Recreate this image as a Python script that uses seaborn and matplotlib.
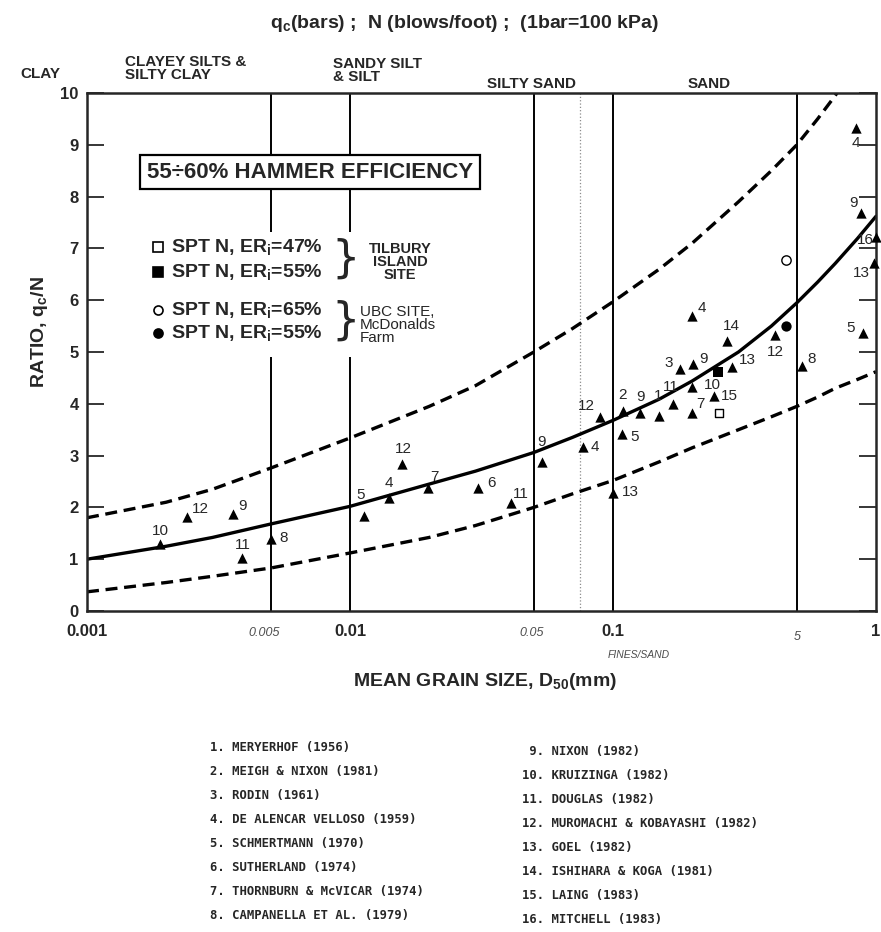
import numpy as np
import pandas as pd
import matplotlib
matplotlib.use("Agg")
import matplotlib.pyplot as plt
import seaborn as sns
from matplotlib.lines import Line2D
from matplotlib.patches import Rectangle
from matplotlib.ticker import NullLocator

# --- curves (D50 in mm, ratio qc/N) ---
curve_d50 = [0.001, 0.002, 0.003, 0.005, 0.01, 0.02, 0.03, 0.05, 0.07, 0.1,
             0.15, 0.2, 0.3, 0.4, 0.5, 0.6, 0.7, 0.85, 1.0]
mean_ratio = [1.0, 1.25, 1.42, 1.68, 2.02, 2.45, 2.70, 3.06, 3.35, 3.68,
              4.09, 4.44, 5.0, 5.5, 5.95, 6.35, 6.71, 7.19, 7.62]
lower_ratio = [0.37, 0.55, 0.67, 0.83, 1.12, 1.42, 1.65, 2.0, 2.26, 2.52,
               2.88, 3.15, 3.5, 3.75, 3.95, 4.13, 4.3, 4.47, 4.62]
upper_d50 = [0.001, 0.002, 0.003, 0.005, 0.01, 0.02, 0.03, 0.05, 0.07, 0.1,
             0.15, 0.2, 0.3, 0.4, 0.5, 0.6, 0.7, 0.8]
upper_ratio = [1.8, 2.1, 2.35, 2.76, 3.34, 3.95, 4.35, 5.0, 5.45, 5.97,
               6.6, 7.1, 7.9, 8.5, 9.0, 9.5, 9.95, 10.4]

# --- published data (triangles), labelled by reference number ---
ref_no = [1, 2, 3, 4, 4, 4, 4, 5, 5, 5, 6, 7, 7, 8, 8, 9, 9, 9, 9, 9,
          10, 10, 11, 11, 11, 12, 12, 12, 12, 13, 13, 13, 14, 15, 16]
ref_d50 = [0.149, 0.109, 0.179, 0.0141, 0.0768, 0.200, 0.84, 0.0113, 0.108, 0.89,
           0.0308, 0.0198, 0.199, 0.005, 0.521, 0.0036, 0.0537, 0.127, 0.202, 0.88,
           0.0019, 0.200, 0.0039, 0.0408, 0.169, 0.0024, 0.0157, 0.0895, 0.413,
           0.100, 0.284, 0.98, 0.272, 0.242, 1.0]
ref_ratio = [3.76, 3.86, 4.67, 2.18, 3.17, 5.70, 9.32, 1.83, 3.42, 5.37,
             2.37, 2.37, 3.82, 1.39, 4.73, 1.87, 2.88, 3.82, 4.77, 7.68,
             1.29, 4.33, 1.02, 2.08, 4.00, 1.81, 2.84, 3.74, 5.33,
             2.28, 4.71, 6.72, 5.21, 4.15, 7.22]

# site data
tilbury_open = ([0.253], [3.82])    # ERi = 47%
tilbury_filled = ([0.25], [4.61])   # ERi = 55%
ubc_open = ([0.456], [6.78])        # ERi = 65%
ubc_filled = ([0.456], [5.50])      # ERi = 55%

soil_bounds = [0.005, 0.01, 0.05, 0.1, 0.5]
fines_sand = 0.075

references = ["MERYERHOF (1956)", "MEIGH & NIXON (1981)", "RODIN (1961)",
              "DE ALENCAR VELLOSO (1959)", "SCHMERTMANN (1970)", "SUTHERLAND (1974)",
              "THORNBURN & McVICAR (1974)", "CAMPANELLA ET AL. (1979)",
              "NIXON (1982)", "KRUIZINGA (1982)", "DOUGLAS (1982)",
              "MUROMACHI & KOBAYASHI (1982)", "GOEL (1982)", "ISHIHARA & KOGA (1981)",
              "LAING (1983)", "MITCHELL (1983)"]

# label offsets (pixels) for the reference numbers
label_offsets = [(0, 20), (0, 16), (-11, 6), (0, 15), (12, 0), (10, 8), (0, -15),
                 (-3, 21), (13, -3), (-12, 5), (13, 5), (6, 11), (9, 9), (13, 1), (10, 7),
                 (9, 8), (0, 20), (0, 16), (10, 5), (-8, 10), (0, 13), (20, 2),
                 (0, 13), (10, 9), (-2, 17), (13, 8), (2, 15), (-14, 11), (0, -17),
                 (17, 1), (15, 7), (-12, -10), (4, 15), (15, 0), (-11, -3)]

W, H = 881, 932


def fx(px):
    return px / W


def fy(py):
    return 1 - py / H


sns.set_style("ticks")
plt.rcParams['font.family'] = ['Liberation Sans', 'DejaVu Sans']
plt.rcParams['mathtext.fontset'] = 'custom'
plt.rcParams['mathtext.rm'] = 'Liberation Sans:bold'
plt.rcParams['mathtext.it'] = 'Liberation Sans:bold'
plt.rcParams['mathtext.bf'] = 'Liberation Sans:bold'

fig = plt.figure(figsize=(W / 100, H / 100), dpi=100)
ax = fig.add_axes([fx(87), fy(611), (876 - 87) / W, (611 - 93) / H])

ax.set_xscale('log')
ax.set_xlim(0.001, 1)
ax.set_ylim(0, 10)

for b in soil_bounds:
    ax.axvline(b, color='black', lw=1.4, zorder=1)
ax.axvline(fines_sand, color='0.55', lw=0.9, ls=':', zorder=1)

sns.lineplot(x=curve_d50, y=mean_ratio, color='black', lw=2.4, ax=ax, estimator=None)
sns.lineplot(x=upper_d50, y=upper_ratio, color='black', lw=2.4, ax=ax, estimator=None)
sns.lineplot(x=curve_d50, y=lower_ratio, color='black', lw=2.4, ax=ax, estimator=None)
ax.lines[-1].set_dashes((3.6, 2.0))
ax.lines[-2].set_dashes((3.6, 2.0))

sns.scatterplot(x=ref_d50, y=ref_ratio, marker='^', s=55, color='black',
                linewidth=0, ax=ax, zorder=4, clip_on=False)
for n, x, y, (dx, dy) in zip(ref_no, ref_d50, ref_ratio, label_offsets):
    ax.annotate(str(n), (x, y), xytext=(dx, dy), textcoords='offset pixels',
                ha='center', va='center', fontsize=11, annotation_clip=False)

sns.scatterplot(x=tilbury_open[0], y=tilbury_open[1], marker='s', s=40,
                facecolor='white', edgecolor='black', linewidth=1, ax=ax, zorder=4)
sns.scatterplot(x=tilbury_filled[0], y=tilbury_filled[1], marker='s', s=60,
                color='black', linewidth=0, ax=ax, zorder=4)
sns.scatterplot(x=ubc_open[0], y=ubc_open[1], marker='o', s=45,
                facecolor='white', edgecolor='black', linewidth=1, ax=ax, zorder=4)
sns.scatterplot(x=ubc_filled[0], y=ubc_filled[1], marker='o', s=55,
                color='black', linewidth=0, ax=ax, zorder=4)

# axes styling
for s in ax.spines.values():
    s.set_linewidth(1.8)
    s.set_visible(True)
ax.set_yticks(range(0, 11))
ax.tick_params(axis='y', direction='in', length=12, width=1.3, right=True,
               labelsize=12, pad=6)
ax.xaxis.set_minor_locator(NullLocator())
ax.set_xticks([0.001, 0.01, 0.1, 1], ["0.001", "0.01", "0.1", "1"])
ax.tick_params(axis='x', length=0, labelsize=12, pad=9)
for lbl in ax.get_xticklabels() + ax.get_yticklabels():
    lbl.set_fontweight('bold')
ax.set_xlabel('')
ax.set_ylabel('')

# handwritten notes under the axis
xt = ax.get_xaxis_transform()
hand = dict(fontsize=9, color='0.3', ha='center', va='center', fontstyle='italic')
ax.text(0.0047, -0.043, "0.005", transform=xt, **hand)
ax.text(0.049, -0.043, "0.05", transform=xt, **hand)
ax.text(0.5, -0.05, "5", transform=xt, **hand)
ax.text(0.125, -0.085, "FINES/SAND", transform=xt, fontsize=7.5, color='0.3',
        ha='center', va='center', fontstyle='italic')

# titles and axis labels
bold = dict(fontweight='bold')
fig.text(fx(465), fy(24), r'q$_\mathrm{c}$(bars) ;  N (blows/foot) ;  (1bar=100 kPa)',
         ha='center', va='center', fontsize=14, **bold)
fig.text(fx(485), fy(682), r'MEAN GRAIN SIZE, D$_\mathrm{50}$(mm)',
         ha='center', va='center', fontsize=14, **bold)
fig.text(fx(40), fy(332), r'RATIO, q$_\mathrm{c}$/N', rotation=90,
         ha='center', va='center', fontsize=14, **bold)

# soil type headers
fig.text(fx(20), fy(74), "CLAY", ha='left', va='center', fontsize=11, **bold)
fig.text(fx(125), fy(55), "CLAYEY SILTS &\nSILTY CLAY", ha='left', va='top',
         fontsize=11, linespacing=0.95, **bold)
fig.text(fx(333), fy(57), "SANDY SILT\n& SILT", ha='left', va='top',
         fontsize=11, linespacing=0.95, **bold)
fig.text(fx(487), fy(84), "SILTY SAND", ha='left', va='center', fontsize=11, **bold)
fig.text(fx(688), fy(84), "SAND", ha='left', va='center', fontsize=11, **bold)

# hammer efficiency box
fig.text(fx(310), fy(172), "55÷60% HAMMER EFFICIENCY", ha='center', va='center',
         fontsize=16, bbox=dict(boxstyle='square,pad=0.3', fc='white', ec='black', lw=1.6),
         zorder=3, **bold)

# legend block
fig.add_artist(Rectangle((fx(140), fy(357)), (460 - 140) / W, (357 - 232) / H,
                         transform=fig.transFigure, fc='white', ec='none', zorder=2))
legend_rows = [(247, 's', 'white', "47%"), (272, 's', 'black', "55%"),
               (310, 'o', 'white', "65%"), (333, 'o', 'black', "55%")]
for py, mk, fc, pct in legend_rows:
    fig.add_artist(Line2D([fx(158)], [fy(py)], marker=mk, ms=6.5, mfc=fc, mec='black',
                          mew=1.2, ls='none', transform=fig.transFigure, zorder=3))
    fig.text(fx(171), fy(py), r'SPT N, ER$_\mathrm{i}$=' + pct,
             ha='left', va='center', fontsize=14, zorder=3, **bold)
for cy in (259, 321):
    fig.text(fx(346), fy(cy), '}', ha='center', va='center', fontsize=32,
             family='DejaVu Sans', zorder=3)
fig.text(fx(400), fy(262), "TILBURY\nISLAND\nSITE", ha='center', va='center',
         fontsize=10.5, linespacing=0.9, zorder=3, **bold)
fig.text(fx(360), fy(325), "UBC SITE,\nMcDonalds\nFarm", ha='left', va='center',
         fontsize=11, linespacing=0.9, zorder=3)

# reference list
row_y = [747, 771, 795, 819, 843, 867, 891, 915]
for i, name in enumerate(references):
    col = i // 8
    py = row_y[i % 8] + (5 if col else 0)
    px = 210 if col == 0 else 522
    fig.text(fx(px), fy(py), f"{i + 1:>{1 if col == 0 else 2}}. {name}", ha='left',
             va='center', fontsize=8.8, family='DejaVu Sans Mono', fontweight='bold')

fig.savefig("out.png", dpi=100)
